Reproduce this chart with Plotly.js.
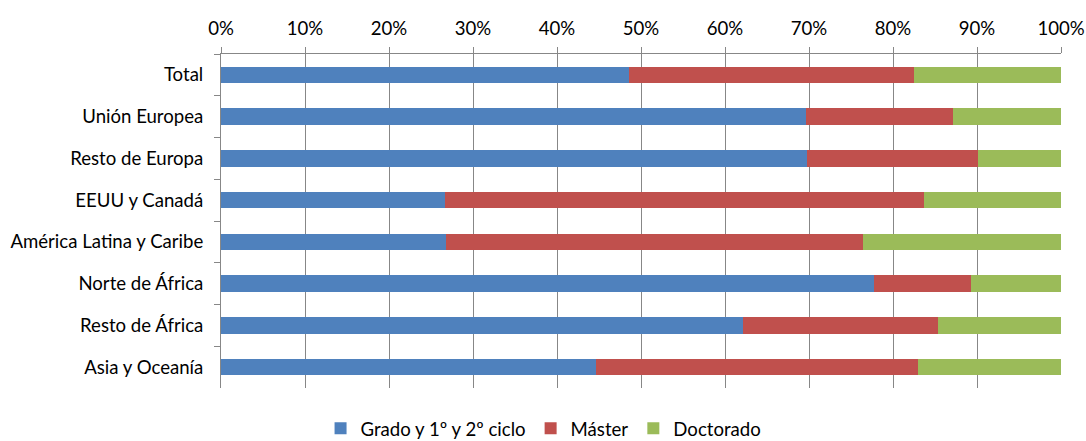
<!DOCTYPE html>
<html>
<head>
<meta charset="utf-8">
<script src="https://cdn.plot.ly/plotly-3.0.1.min.js"></script>
<style>html,body{margin:0;padding:0;background:#fff;}#chart{width:1086px;height:441px;}</style>
</head>
<body>
<div id="chart"></div>
<script>
const categories = ["Total", "Unión Europea", "Resto de Europa", "EEUU y Canadá", "América Latina y Caribe", "Norte de África", "Resto de África", "Asia y Oceanía"];
const grado = [48.6, 69.6, 69.8, 26.7, 26.8, 77.7, 62.2, 44.6];
const master = [33.9, 17.6, 20.3, 57.0, 49.6, 11.6, 23.2, 38.4];
const doctorado = [17.5, 12.8, 9.9, 16.3, 23.6, 10.7, 14.6, 17.0];
const seriesNames = ["Grado y 1º y 2º ciclo", "Máster", "Doctorado"];
const seriesColors = ["#4F81BD", "#C0504D", "#9BBB59"];
const tickVals = [0, 10, 20, 30, 40, 50, 60, 70, 80, 90, 100];
const tickText = ["0%", "10%", "20%", "30%", "40%", "50%", "60%", "70%", "80%", "90%", "100%"];

const seriesData = [grado, master, doctorado];
const traces = seriesData.map((vals, i) => ({
  type: "bar",
  orientation: "h",
  name: seriesNames[i],
  x: vals,
  y: categories,
  marker: {color: seriesColors[i], line: {width: 0}},
  hoverinfo: "x+name"
}));

const FS = 18.6;
const layout = {
  width: 1086,
  height: 441,
  barmode: "stack",
  bargap: 0.61,
  margin: {l: 221, r: 25, t: 54, b: 53, autoexpand: false},
  paper_bgcolor: "#ffffff",
  plot_bgcolor: "#ffffff",
  font: {family: "Lato, 'Open Sans', sans-serif", size: FS, color: "#000000"},
  xaxis: {
    side: "top",
    range: [0, 100],
    tickvals: tickVals,
    ticktext: tickText,
    showgrid: true,
    gridcolor: "#878787",
    gridwidth: 1,
    showline: true,
    linecolor: "#878787",
    linewidth: 1,
    ticks: "outside",
    ticklen: 6,
    tickcolor: "#878787",
    ticklabelstandoff: 5,
    zeroline: false,
    fixedrange: true,
    tickfont: {size: FS}
  },
  yaxis: {
    autorange: "reversed",
    type: "category",
    showline: true,
    linecolor: "#878787",
    linewidth: 1,
    ticks: "outside",
    tickson: "boundaries",
    ticklen: 6,
    tickcolor: "#878787",
    showgrid: false,
    ticklabelstandoff: 13,
    fixedrange: true,
    tickfont: {size: FS}
  },
  showlegend: true,
  legend: {
    orientation: "h",
    x: 0.384,
    xanchor: "center",
    y: -0.122,
    yanchor: "middle",
    font: {size: FS},
    traceorder: "normal",
    itemwidth: 30,
    tracegroupgap: 0
  }
};

Plotly.newPlot("chart", traces, layout, {displayModeBar: false, staticPlot: true});
</script>
</body>
</html>
